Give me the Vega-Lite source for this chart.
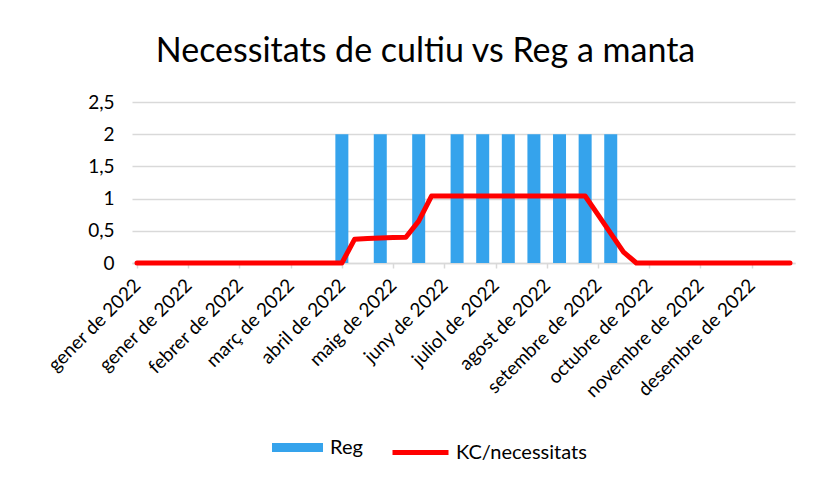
{
  "$schema": "https://vega.github.io/schema/vega-lite/v6.json",
  "width": 663,
  "height": 161,
  "autosize": {"type": "none"},
  "padding": {"left": 132, "top": 102, "right": 33, "bottom": 214},
  "background": "white",
  "config": {
    "font": "Lato",
    "view": {"stroke": null},
    "legend": {"padding": 0}
  },
  "title": {
    "text": "Necessitats de cultiu vs Reg a manta",
    "fontSize": 34,
    "fontWeight": "normal",
    "color": "#000000",
    "anchor": "middle",
    "dx": -38,
    "offset": 24
  },
  "data": {
    "values": [
      {"data": "2022-01-01", "Reg": null, "KC": 0},
      {"data": "2022-01-08", "Reg": null, "KC": 0},
      {"data": "2022-01-15", "Reg": null, "KC": 0},
      {"data": "2022-01-22", "Reg": null, "KC": 0},
      {"data": "2022-01-29", "Reg": null, "KC": 0},
      {"data": "2022-02-05", "Reg": null, "KC": 0},
      {"data": "2022-02-12", "Reg": null, "KC": 0},
      {"data": "2022-02-19", "Reg": null, "KC": 0},
      {"data": "2022-02-26", "Reg": null, "KC": 0},
      {"data": "2022-03-05", "Reg": null, "KC": 0},
      {"data": "2022-03-12", "Reg": null, "KC": 0},
      {"data": "2022-03-19", "Reg": null, "KC": 0},
      {"data": "2022-03-26", "Reg": null, "KC": 0},
      {"data": "2022-04-02", "Reg": null, "KC": 0},
      {"data": "2022-04-09", "Reg": null, "KC": 0},
      {"data": "2022-04-16", "Reg": null, "KC": 0},
      {"data": "2022-04-23", "Reg": 2, "KC": 0},
      {"data": "2022-04-30", "Reg": null, "KC": 0.37},
      {"data": "2022-05-07", "Reg": null, "KC": 0.38},
      {"data": "2022-05-14", "Reg": 2, "KC": 0.39},
      {"data": "2022-05-21", "Reg": null, "KC": 0.395},
      {"data": "2022-05-28", "Reg": null, "KC": 0.4},
      {"data": "2022-06-04", "Reg": 2, "KC": 0.65},
      {"data": "2022-06-11", "Reg": null, "KC": 1.04},
      {"data": "2022-06-18", "Reg": null, "KC": 1.04},
      {"data": "2022-06-25", "Reg": 2, "KC": 1.04},
      {"data": "2022-07-02", "Reg": null, "KC": 1.04},
      {"data": "2022-07-09", "Reg": 2, "KC": 1.04},
      {"data": "2022-07-16", "Reg": null, "KC": 1.04},
      {"data": "2022-07-23", "Reg": 2, "KC": 1.04},
      {"data": "2022-07-30", "Reg": null, "KC": 1.04},
      {"data": "2022-08-06", "Reg": 2, "KC": 1.04},
      {"data": "2022-08-13", "Reg": null, "KC": 1.04},
      {"data": "2022-08-20", "Reg": 2, "KC": 1.04},
      {"data": "2022-08-27", "Reg": null, "KC": 1.04},
      {"data": "2022-09-03", "Reg": 2, "KC": 1.04},
      {"data": "2022-09-10", "Reg": null, "KC": 0.75},
      {"data": "2022-09-17", "Reg": 2, "KC": 0.46},
      {"data": "2022-09-24", "Reg": null, "KC": 0.17},
      {"data": "2022-10-01", "Reg": null, "KC": 0},
      {"data": "2022-10-08", "Reg": null, "KC": 0},
      {"data": "2022-10-15", "Reg": null, "KC": 0},
      {"data": "2022-10-22", "Reg": null, "KC": 0},
      {"data": "2022-10-29", "Reg": null, "KC": 0},
      {"data": "2022-11-05", "Reg": null, "KC": 0},
      {"data": "2022-11-12", "Reg": null, "KC": 0},
      {"data": "2022-11-19", "Reg": null, "KC": 0},
      {"data": "2022-11-26", "Reg": null, "KC": 0},
      {"data": "2022-12-03", "Reg": null, "KC": 0},
      {"data": "2022-12-10", "Reg": null, "KC": 0},
      {"data": "2022-12-17", "Reg": null, "KC": 0},
      {"data": "2022-12-24", "Reg": null, "KC": 0}
    ]
  },
  "encoding": {
    "x": {
      "field": "data",
      "type": "temporal",
      "scale": {
        "type": "utc",
        "nice": false,
        "domain": [
          {"year": 2022, "month": 1, "date": 1, "utc": true},
          {"year": 2022, "month": 12, "date": 24, "utc": true}
        ]
      },
      "axis": {
        "title": null,
        "values": [
          {"year": 2022, "month": 1, "date": 1, "utc": true},
          {"year": 2022, "month": 1, "date": 29, "utc": true},
          {"year": 2022, "month": 2, "date": 26, "utc": true},
          {"year": 2022, "month": 3, "date": 26, "utc": true},
          {"year": 2022, "month": 4, "date": 23, "utc": true},
          {"year": 2022, "month": 5, "date": 21, "utc": true},
          {"year": 2022, "month": 6, "date": 18, "utc": true},
          {"year": 2022, "month": 7, "date": 16, "utc": true},
          {"year": 2022, "month": 8, "date": 13, "utc": true},
          {"year": 2022, "month": 9, "date": 10, "utc": true},
          {"year": 2022, "month": 10, "date": 8, "utc": true},
          {"year": 2022, "month": 11, "date": 5, "utc": true},
          {"year": 2022, "month": 12, "date": 3, "utc": true}
        ],
        "labelExpr": "['gener','febrer','març','abril','maig','juny','juliol','agost','setembre','octubre','novembre','desembre'][utcmonth(datum.value)] + ' de ' + utcyear(datum.value)",
        "labelAngle": -45,
        "labelAlign": "right",
        "labelBaseline": "middle",
        "labelFontSize": 19,
        "labelColor": "#000000",
        "labelPadding": 14,
        "labelOverlap": false,
        "labelFlush": false,
        "labelBound": false,
        "grid": false,
        "ticks": true,
        "tickSize": 5,
        "tickColor": "#d9d9d9",
        "tickWidth": 1.5,
        "domainColor": "#d9d9d9",
        "domainWidth": 1.5
      }
    }
  },
  "layer": [
    {
      "mark": {"type": "bar", "size": 13},
      "encoding": {
        "y": {
          "field": "Reg",
          "type": "quantitative",
          "scale": {"domain": [0, 2.5], "nice": false},
          "axis": {
            "title": null,
            "values": [0, 0.5, 1, 1.5, 2, 2.5],
            "labelExpr": "replace(format(datum.value, '~g'), '.', ',')",
            "labelFontSize": 19,
            "labelColor": "#000000",
            "labelPadding": 18,
            "labelOverlap": false,
            "domain": false,
            "ticks": false,
            "grid": true,
            "gridColor": "#d9d9d9",
            "gridWidth": 1.5
          }
        },
        "fill": {
          "datum": "Reg",
          "scale": {"domain": ["Reg"], "range": ["#35A3EC"]},
          "legend": {
            "title": null,
            "orient": "none",
            "legendX": 140,
            "legendY": 320,
            "direction": "horizontal",
            "symbolType": "M-1,-0.18H1V0.18H-1Z",
            "symbolSize": 2600,
            "symbolStrokeWidth": 0,
            "labelFontSize": 20,
            "labelColor": "#000000",
            "labelOffset": 7
          }
        }
      }
    },
    {
      "mark": {"type": "line", "strokeWidth": 5, "strokeCap": "round", "strokeJoin": "round"},
      "encoding": {
        "y": {
          "field": "KC",
          "type": "quantitative",
          "scale": {"domain": [0, 2.5], "nice": false},
          "axis": {
            "title": null,
            "values": [0, 0.5, 1, 1.5, 2, 2.5],
            "labelExpr": "replace(format(datum.value, '~g'), '.', ',')",
            "labelFontSize": 19,
            "labelColor": "#000000",
            "labelPadding": 18,
            "labelOverlap": false,
            "domain": false,
            "ticks": false,
            "grid": true,
            "gridColor": "#d9d9d9",
            "gridWidth": 1.5
          }
        },
        "stroke": {
          "datum": "KC/necessitats",
          "scale": {"domain": ["KC/necessitats"], "range": ["#FF0000"]},
          "legend": {
            "title": null,
            "orient": "none",
            "legendX": 258,
            "legendY": 320,
            "direction": "horizontal",
            "symbolType": "stroke",
            "symbolSize": 3136,
            "symbolStrokeWidth": 5,
            "labelFontSize": 20,
            "labelColor": "#000000",
            "labelOffset": 5
          }
        }
      }
    }
  ]
}
